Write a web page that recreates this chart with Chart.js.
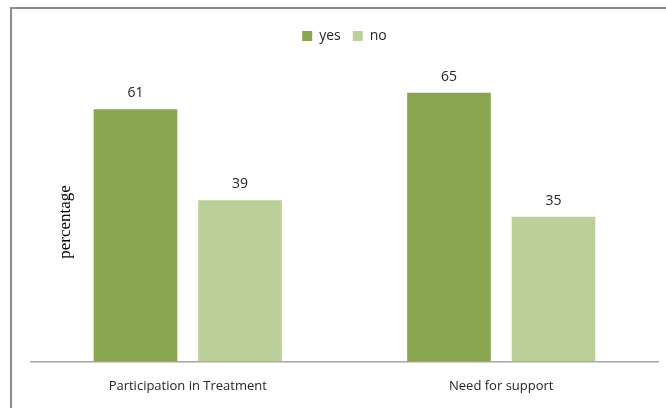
<!DOCTYPE html>
<html>
<head>
<meta charset="utf-8">
<script src="https://cdn.jsdelivr.net/npm/chart.js@4/dist/chart.umd.min.js"></script>
<style>
  body { margin: 0; background: #fff; }
  #wrap { width: 666px; height: 408px; position: relative; }
</style>
</head>
<body>
<div id="wrap"><canvas id="myChart" width="666" height="408"></canvas></div>
<script>
// data
const categories = ['Participation in Treatment', 'Need for support'];
const yesValues = [61, 65];
const noValues = [39, 35];
const seriesNames = ['yes', 'no'];

// frame around the chart
const frame = {
  id: 'frame',
  beforeDraw(chart) {
    const c = chart.ctx;
    c.save();
    c.fillStyle = '#fff';
    c.fillRect(0, 0, chart.width, chart.height);
    c.strokeStyle = '#8c8c8c';
    c.lineWidth = 2;
    c.strokeRect(11, 8, 700, 500);
    c.restore();
  }
};

// value labels + y title
const labels = {
  id: 'labels',
  afterDatasetsDraw(chart) {
    const c = chart.ctx;
    c.save();
    c.fillStyle = '#262626';
    c.font = '14px "Open Sans"';
    c.textAlign = 'center';
    c.textBaseline = 'bottom';
    chart.data.datasets.forEach((ds, i) => {
      chart.getDatasetMeta(i).data.forEach((bar, j) => {
        c.fillText(ds.data[j], bar.x, bar.y - 9);
      });
    });
    c.translate(66, 222);
    c.rotate(-Math.PI / 2);
    c.font = '17px "Liberation Serif"';
    c.fillStyle = '#000';
    c.textBaseline = 'middle';
    c.fillText('percentage', 0, 0);
    c.restore();
  }
};

// a bit more room under the legend
const legendMargin = {
  id: 'legendMargin',
  beforeInit(chart) {
    const fit = chart.legend.fit;
    chart.legend.fit = function () {
      fit.bind(chart.legend)();
      this.height += 19;
    };
  }
};

new Chart(document.getElementById('myChart'), {
  type: 'bar',
  data: {
    labels: categories,
    datasets: [
      { label: seriesNames[0], data: yesValues, backgroundColor: '#8aa54f' },
      { label: seriesNames[1], data: noValues, backgroundColor: '#bbd099' }
    ]
  },
  options: {
    responsive: false,
    animation: false,
    layout: { padding: { top: 17, left: 31, right: 8, bottom: 5 } },
    categoryPercentage: 0.667,
    barPercentage: 0.8,
    plugins: {
      legend: {
        position: 'top',
        labels: {
          boxWidth: 10,
          boxHeight: 10,
          padding: 12,
          color: '#262626',
          font: { family: 'Open Sans', size: 14 }
        }
      },
      tooltip: { enabled: false }
    },
    scales: {
      x: {
        grid: { display: false },
        border: { display: true, color: '#a6a6a6', width: 1.5 },
        ticks: { color: '#262626', padding: 9, font: { family: 'Open Sans', size: 13 } }
      },
      y: { display: false, min: 0, max: 70 }
    }
  },
  plugins: [frame, labels, legendMargin]
});
</script>
</body>
</html>
